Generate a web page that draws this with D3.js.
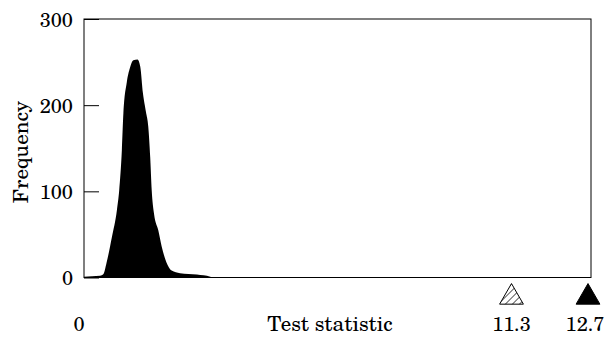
<!DOCTYPE html>
<html>
<head>
<meta charset="utf-8">
<script src="https://cdn.jsdelivr.net/npm/d3@7"></script>
<style>
body { margin: 0; background: #fff; }
text { font-family: "TeX Gyre Schola", "Noto Serif", "Liberation Serif", serif; font-size: 20px; fill: #000; }
.title { font-size: 21px; }
</style>
</head>
<body>
<div id="chart"></div>
<script>
const width = 606;
const height = 338;

// null distribution of the test statistic (histogram outline)
const statValues = [0.13, 0.55, 0.64, 0.72, 0.86, 0.99, 1.05, 1.12, 1.16, 1.25, 1.33, 1.42, 1.53, 1.60,
	1.67, 1.75, 1.81, 1.86, 1.90, 1.96, 2.07, 2.16, 2.28, 2.42, 2.64, 3.08, 3.43, 3.50];
const freqValues = [1, 2, 4, 17, 47, 78, 101, 148, 191, 227, 243, 252, 253, 245,
	214, 192, 175, 140, 101, 74, 55, 36, 18, 8, 5, 3.5, 1, 0];

// observed statistics shown as markers
const markerValues = [11.3, 12.7];
const markerStyles = ["hatch", "solid"];
const xTickValues = [0];
const yTickValues = [0, 100, 200, 300];

const box = {left: 84, right: 591, top: 19, bottom: 277.5};

// the axis is not to scale between the distribution and the observed values
const x = d3.scaleLinear()
	.domain([0, 11.3, 12.7])
	.range([79, 511.5, 588]);

const y = d3.scaleLinear()
	.domain([0, 300])
	.range([box.bottom, box.top]);

const svg = d3.select("#chart")
	.append("svg")
	.attr("width", width)
	.attr("height", height);

const defs = svg.append("defs");
defs.append("pattern")
	.attr("id", "hatch")
	.attr("patternUnits", "userSpaceOnUse")
	.attr("width", 5)
	.attr("height", 5)
	.attr("patternTransform", "rotate(45)")
	.append("line")
	.attr("x1", 0).attr("y1", 0)
	.attr("x2", 0).attr("y2", 5)
	.style("stroke", "#000")
	.style("stroke-width", 1.3);

// histogram silhouette
const area = d3.area()
	.x(function (d) { return x(d[0]); })
	.y0(y(0))
	.y1(function (d) { return y(d[1]); })
	.curve(d3.curveMonotoneX);

svg.append("path")
	.datum(statValues.map(function (v, i) { return [v, freqValues[i]]; }))
	.attr("d", area)
	.attr("fill", "#000");

// frame
svg.append("rect")
	.attr("x", box.left)
	.attr("y", box.top)
	.attr("width", box.right - box.left)
	.attr("height", box.bottom - box.top)
	.attr("fill", "none")
	.style("stroke", "#000")
	.style("stroke-width", 1);

// y axis with inward ticks
const yAxis = svg.append("g")
	.attr("transform", "translate(" + box.left + ",0)")
	.call(d3.axisLeft(y).tickValues(yTickValues).tickSize(-15).tickPadding(11));
yAxis.select(".domain").remove();
yAxis.selectAll("line").style("stroke", "#000");
yAxis.selectAll("text")
	.attr("dy", "0.36em")
	.attr("fill", "#000");

svg.append("text")
	.attr("class", "title")
	.attr("transform", "translate(28,152) rotate(-90)")
	.attr("text-anchor", "middle")
	.text("Frequency");

// x labels
svg.selectAll(".xlab")
	.data(xTickValues.concat(markerValues))
	.enter()
	.append("text")
	.attr("class", "xlab")
	.attr("x", function (d) { return Math.min(x(d), width - 21); })
	.attr("y", 331)
	.attr("text-anchor", "middle")
	.text(function (d) { return d === 0 ? "0" : d.toFixed(1); });

svg.append("text")
	.attr("class", "title")
	.attr("x", 330)
	.attr("y", 331)
	.attr("text-anchor", "middle")
	.text("Test statistic");

// observed value markers
const tri = d3.symbol().type(d3.symbolTriangle).size(245);
svg.selectAll(".marker")
	.data(markerValues)
	.enter()
	.append("path")
	.attr("class", "marker")
	.attr("d", tri)
	.attr("transform", function (d) { return "translate(" + x(d) + ",297.3)"; })
	.attr("fill", function (d, i) { return markerStyles[i] === "hatch" ? "url(#hatch)" : "#000"; })
	.style("stroke", "#000")
	.style("stroke-width", 1);
</script>
</body>
</html>
